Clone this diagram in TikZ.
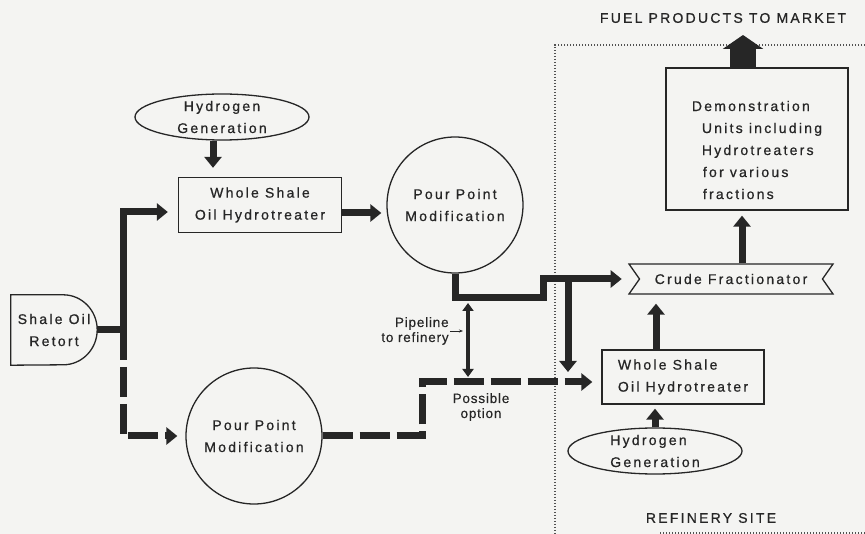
\documentclass[tikz,border=0pt]{standalone}
\usepackage{fontspec}
\setmainfont{Liberation Sans}[LetterSpace=16, FakeBold=0.7]
\newfontfamily\lblfont{Liberation Sans}[LetterSpace=6, FakeBold=0.3]
\usetikzlibrary{arrows.meta,shapes.geometric,shapes.symbols}
\definecolor{paper}{HTML}{F4F4F2}
\definecolor{ink}{HTML}{262626}
\begin{document}
\begin{tikzpicture}[
    x=1pt, y=-1pt,
    every node/.style={text=ink, font=\fontsize{14}{22}\selectfont},
    plant/.style={rectangle, draw=ink, line width=1.3pt, inner sep=0pt},
    vessel/.style={circle, draw=ink, line width=1.3pt, minimum size=136pt, inner sep=0pt, align=center},
    hgen/.style={ellipse, draw=ink, line width=1.3pt, minimum width=174pt, minimum height=46pt, inner sep=0pt},
    pipe/.style={draw=ink, line width=7pt},
    flow/.style={pipe, -{Triangle[width=17pt,length=11pt]}},
    maybe/.style={flow, dash pattern=on 30pt off 7pt},
    dbl/.style={draw=ink, line width=4pt, {Triangle[width=11pt,length=8pt]}-{Triangle[width=11pt,length=8pt]}, shorten <=5pt, shorten >=5pt},
    sitebound/.style={draw=ink!80, line width=1.3pt, dash pattern=on 1.3pt off 1.7pt},
    lbl/.style={font=\lblfont\fontsize{13.5}{15}\selectfont, inner sep=1pt},
]
\fill[paper] (0,0) rectangle (865,534);
\useasboundingbox (0,0) rectangle (865,534);

% Refinery site boundary
\draw[sitebound] (865,45) -| (555,534);
\draw[sitebound] (660,533) -- (865,533);

% Field side
\node[minimum width=86pt, minimum height=70pt, inner sep=0pt, align=center] (retort) at (54,330) {Shale Oil\\Retort};
\draw[draw=ink, line width=1.3pt] (retort.south west) |- ([xshift=-34pt]retort.north east)
    arc[start angle=90, end angle=-90, x radius=34pt, y radius=35pt] -- cycle;
\node[hgen, align=center] (h2a) at (222,117) {Hydrogen\\Generation};
\node[plant, minimum width=163pt, minimum height=55pt, align=center] (hyd1) at (260,205) {Whole Shale\\Oil Hydrotreater};
\node[vessel] (pp1) at (455,205) {Pour Point\\Modification};
\node[vessel] (pp2) at (254,436) {Pour Point\\Modification};

% Refinery side
\node[signal, signal to=nowhere, signal from=west and east, signal pointer angle=110, draw=ink, line width=1.3pt,
      minimum width=204pt, minimum height=30pt, inner sep=0pt] (crude) at (731,279) {Crude Fractionator};
\node[plant, minimum width=162pt, minimum height=54pt, align=left] (hyd2) at (683,377) {Whole Shale\\Oil Hydrotreater};
\node[hgen, align=left] (h2b) at (655,451) {Hydrogen\\Generation};
\node[plant, minimum width=182pt, minimum height=142pt] (demo) at (757,139) {};
\node[align=left] (demotext) at (757,150) {Demonstration\\\hspace*{10pt}Units including\\\hspace*{10pt}Hydrotreaters\\\hspace*{11pt}for various\\\hspace*{11pt}fractions};

% Labels
\node (fuel) at (723,18) {FUEL PRODUCTS TO MARKET};
\node (site) at (711,518) {REFINERY SITE};
\node[lbl, align=right] (pipelbl) at (415,331) {Pipeline\\to refinery};
\node[lbl, align=center] (optlbl) at (481,407) {Possible\\option};

% Flows out of the retort
\coordinate (split) at (123,330);
\draw[pipe] (retort.east) -- (split);
\draw[flow, shorten >=10pt] (split) |- ([yshift=-7pt]hyd1.west);
\draw[maybe, shorten >=8pt] (split) |- (pp2.west);
\draw[flow, shorten >=9pt] ([xshift=-9pt]h2a.south) -- ([xshift=-47pt]hyd1.north);
\draw[flow, shorten >=5pt] ([yshift=-8pt]hyd1.east) -- ([yshift=-8pt]pp1.west);

% Pipeline to refinery
\coordinate (jog) at (543,298);
\coordinate (tee) at (568,279);
\coordinate (dog) at (422,382);
\draw[flow, shorten >=17pt] (pp1.south) |- (jog) |- (crude.west);
\draw[flow, shorten >=5pt] (tee) -- (tee |- hyd2.west);
\draw[maybe, shorten >=9pt] (pp2.east) -| (dog) -- ([yshift=-5pt]hyd2.west);
\coordinate (pl1) at (468,298);
\coordinate (pl2) at (468,382);
\draw[dbl] (pl1) -- (pl2);
\draw[draw=ink, line width=0.7pt, -{Stealth[length=4pt,width=3pt]}, shorten >=5pt] (pipelbl.east) -- (pipelbl.east -| pl1);

% Refinery flows
\coordinate (up2) at ([xshift=-27pt]hyd2.north);
\coordinate (up3) at ([xshift=11pt]crude.north);
\coordinate (market) at (743,35);
\draw[flow, shorten >=4pt] (h2b.north) -- (h2b.north |- hyd2.south);
\draw[flow, shorten >=9pt] (up2) -- (up2 |- crude.south);
\draw[flow, shorten >=5pt] (up3) -- (up3 |- demo.south);
\draw[draw=ink, line width=26pt, -{Triangle[width=40pt,length=14pt]}] (market |- demo.north) -- (market);
\end{tikzpicture}
\end{document}
